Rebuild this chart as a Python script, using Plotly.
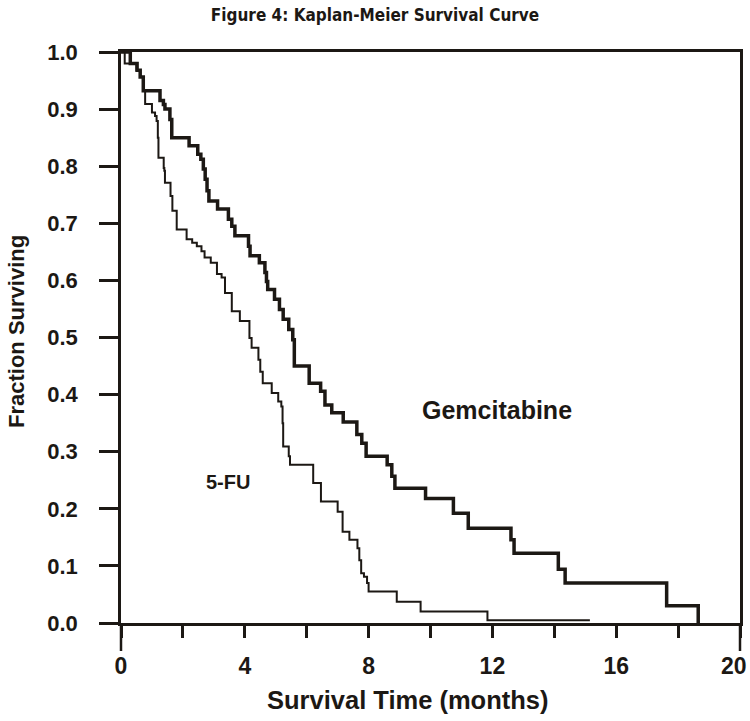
import plotly.graph_objects as go

# Kaplan-Meier step data (months, fraction surviving)
gem_months = [0, 0.3, 0.52, 0.62, 0.72, 1.26, 1.37, 1.42, 1.58, 1.64,
              2.2, 2.48, 2.58, 2.66, 2.72, 2.78, 2.84, 3.12, 3.47, 3.58,
              3.68, 4.12, 4.17, 4.47, 4.65, 4.70, 4.74, 4.96, 5.12, 5.24,
              5.42, 5.55, 5.6, 6.08, 6.45, 6.59, 6.81, 7.18, 7.62, 7.78,
              7.92, 8.6, 8.75, 8.85, 9.84, 10.74, 11.22, 12.6, 12.7, 14.13,
              14.35, 17.63, 18.65]
gem_surv = [1.0, 0.98, 0.968, 0.956, 0.932, 0.915, 0.908, 0.9, 0.882, 0.85,
            0.836, 0.821, 0.812, 0.795, 0.777, 0.757, 0.739, 0.725, 0.707, 0.695,
            0.678, 0.660, 0.643, 0.631, 0.614, 0.598, 0.584, 0.567, 0.549, 0.532,
            0.514, 0.496, 0.45, 0.42, 0.406, 0.382, 0.368, 0.352, 0.33, 0.315,
            0.292, 0.277, 0.257, 0.236, 0.218, 0.192, 0.166, 0.146, 0.122, 0.094,
            0.07, 0.03, 0.0]

fu_months = [0, 0.12, 0.5, 0.62, 0.72, 0.78, 1.0, 1.1, 1.15, 1.19,
             1.21, 1.38, 1.40, 1.42, 1.6, 1.66, 1.8, 2.12, 2.3, 2.45,
             2.6, 2.7, 2.9, 3.1, 3.25, 3.36, 3.58, 3.84, 4.15, 4.22,
             4.44, 4.5, 4.58, 4.87, 5.08, 5.18, 5.22, 5.24, 5.42, 5.46,
             6.21, 6.46, 7.0, 7.16, 7.38, 7.64, 7.7, 7.76, 7.85, 7.95,
             8.0, 8.91, 9.68, 11.84, 15.15]
fu_surv = [1.0, 0.98, 0.968, 0.956, 0.932, 0.909, 0.894, 0.888, 0.879, 0.85,
           0.815, 0.797, 0.792, 0.771, 0.748, 0.722, 0.689, 0.672, 0.666, 0.660,
           0.651, 0.640, 0.631, 0.611, 0.605, 0.578, 0.546, 0.529, 0.499, 0.482,
           0.461, 0.44, 0.42, 0.403, 0.388, 0.379, 0.35, 0.309, 0.292, 0.277,
           0.245, 0.213, 0.195, 0.16, 0.146, 0.131, 0.11, 0.087, 0.081, 0.07,
           0.055, 0.037, 0.02, 0.005, 0.005]

x_tickvals = [0, 2, 4, 6, 8, 10, 12, 14, 16, 18, 20]
x_ticktext = ["0", "", "4", "", "8", "", "12", "", "16", "", ""]
x_last_label = "20"   # drawn right-aligned at the page edge, as in the reference
y_tickvals = [0.0, 0.1, 0.2, 0.3, 0.4, 0.5, 0.6, 0.7, 0.8, 0.9, 1.0]
y_ticktext = ["0.0", "0.1", "0.2", "0.3", "0.4", "0.5", "0.6", "0.7", "0.8", "0.9", "1.0"]

INK = "#1c1814"
BOLD = dict(family="Liberation Sans, Arial, sans-serif", color=INK, weight="bold")

fig = go.Figure()
fig.add_trace(go.Scatter(x=fu_months, y=fu_surv, mode="lines", line_shape="hv",
                         line=dict(color=INK, width=2), name="5-FU",
                         cliponaxis=False))
fig.add_trace(go.Scatter(x=gem_months, y=gem_surv, mode="lines", line_shape="hv",
                         line=dict(color=INK, width=3.5), name="Gemcitabine",
                         cliponaxis=False))

fig.update_layout(
    width=750, height=721,
    margin=dict(l=121, r=10, t=52, b=98, autoexpand=False),
    paper_bgcolor="white", plot_bgcolor="white",
    showlegend=False,
    title=dict(text="Figure 4: Kaplan-Meier Survival Curve",
               x=0.5, xanchor="center", y=1 - 15 / 721, yanchor="middle",
               yref="container", automargin=False,
               font=dict(family="DejaVu Sans Condensed, sans-serif",
                         size=17, color=INK, weight="bold")),
    xaxis=dict(range=[0, 20], tickmode="array", tickvals=x_tickvals, ticktext=x_ticktext,
               ticks="outside", ticklen=12, tickwidth=2.5, tickcolor=INK,
               showline=True, linecolor=INK, linewidth=2.5, mirror=True,
               showgrid=False, zeroline=False, automargin=False,
               ticklabeloverflow="allow",
               tickfont=dict(size=23, **BOLD), ticklabelstandoff=9),
    yaxis=dict(range=[0, 1], tickmode="array", tickvals=y_tickvals, ticktext=y_ticktext,
               ticks="outside", ticklen=19, tickwidth=2.5, tickcolor=INK,
               showline=True, linecolor=INK, linewidth=2.5, mirror=True,
               showgrid=False, zeroline=False, automargin=False,
               ticklabeloverflow="allow",
               tickfont=dict(size=22, **BOLD), ticklabelstandoff=17),
)

# frame lines extend below the x axis at 0 and 20
for xp in (0, 1):
    fig.add_shape(type="line", xref="paper", yref="paper", x0=xp, x1=xp,
                  y0=0, y1=-28 / 571, line=dict(color=INK, width=2.5))

# last x tick label, kept inside the page
fig.add_annotation(x=(749 - 121) / 619, y=(623 - 666) / 571, xref="paper", yref="paper",
                   text=x_last_label, showarrow=False, xanchor="right", yanchor="middle",
                   font=dict(size=23, **BOLD))

# axis titles
fig.add_annotation(x=(408 - 121) / 619, y=(623 - 700) / 571, xref="paper", yref="paper",
                   text="Survival Time (months)", showarrow=False,
                   xanchor="center", yanchor="middle", font=dict(size=25.5, **BOLD))
fig.add_annotation(x=(17 - 121) / 619, y=(623 - 332) / 571, xref="paper", yref="paper",
                   text="Fraction Surviving", showarrow=False, textangle=-90,
                   xanchor="center", yanchor="middle", font=dict(size=22, **BOLD))

fig.add_annotation(x=12.15, y=0.373, xref="x", yref="y", text="Gemcitabine",
                   showarrow=False, font=dict(size=25, **BOLD))
fig.add_annotation(x=3.46, y=0.247, xref="x", yref="y", text="5-FU",
                   showarrow=False, font=dict(size=20, **BOLD))

fig.write_html("out.html", config={"displayModeBar": False},
               post_script="document.body.style.margin='0';document.body.style.overflow='hidden';")
